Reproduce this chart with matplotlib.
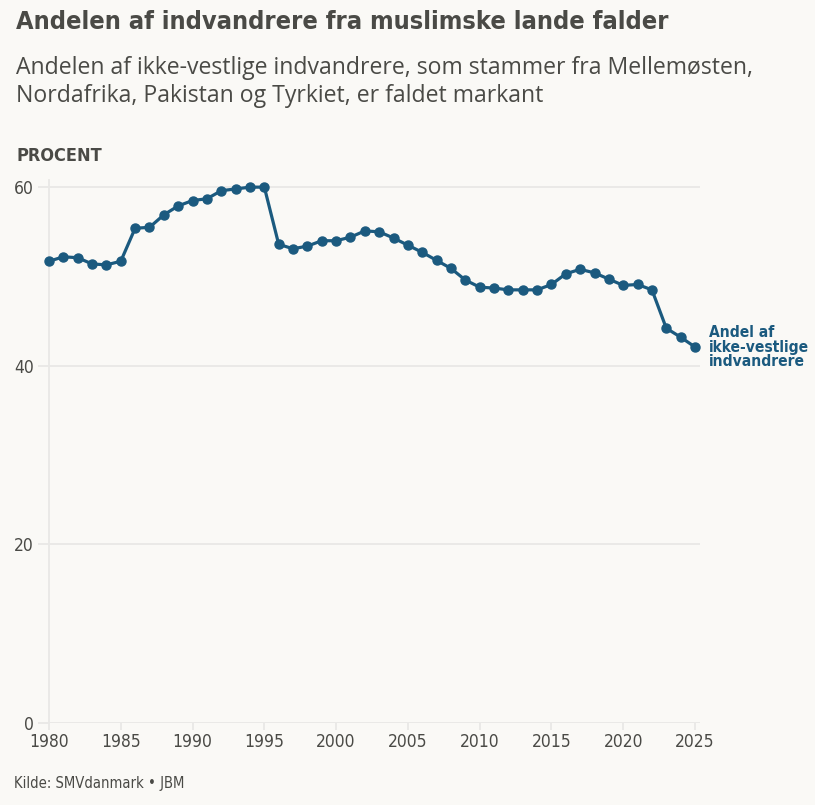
"""
Andelen af indvandrere fra muslimske lande - linjediagram.
"""

import matplotlib
matplotlib.use("Agg")
import matplotlib.pyplot as plt

# Data
years = list(range(1980, 2026))
share = [51.7, 52.2, 52.1, 51.4, 51.3, 51.7, 55.4, 55.5, 56.9, 57.9,
         58.5, 58.7, 59.6, 59.8, 60.0, 60.0, 53.6, 53.1, 53.4, 54.0,
         54.0, 54.4, 55.1, 55.0, 54.3, 53.5, 52.7, 51.8, 50.9, 49.6,
         48.8, 48.7, 48.5, 48.5, 48.5, 49.1, 50.3, 50.8, 50.4, 49.7,
         49.0, 49.1, 48.5, 44.2, 43.2, 42.1]
x_ticks = [1980, 1985, 1990, 1995, 2000, 2005, 2010, 2015, 2020, 2025]
y_ticks = [0, 20, 40, 60]

title = "Andelen af indvandrere fra muslimske lande falder"
subtitle = ("Andelen af ikke-vestlige indvandrere, som stammer fra Mellemøsten,\n"
            "Nordafrika, Pakistan og Tyrkiet, er faldet markant")
series_label = "Andel af\nikke-vestlige\nindvandrere"
source = "Kilde: SMVdanmark • JBM"

BG = "#faf9f6"
LINE = "#1b5a7f"
TEXT = "#4a4a46"
GRID = "#e9e8e6"
NARROW = dict(family="DejaVu Sans", stretch="condensed")


def plot():
    fig = plt.figure(figsize=(8.15, 8.05), dpi=100, facecolor=BG)
    ax = fig.add_axes([49 / 815, 1 - 723 / 805, 651 / 815, 543 / 805])
    ax.set_facecolor(BG)

    ax.plot(years, share, color=LINE, lw=2.3, marker="o", ms=6.5,
            solid_joinstyle="round", clip_on=False, zorder=3)

    ax.set_xlim(1980, 1980 + 651 / 14.356)
    ax.set_ylim(0, 60.8)
    ax.set_xticks(x_ticks)
    ax.set_yticks(y_ticks)
    ax.grid(axis="y", color=GRID, lw=1.3)
    ax.set_axisbelow(True)

    for side in ["top", "right", "bottom"]:
        ax.spines[side].set_visible(False)
    ax.spines["left"].set_color(GRID)
    ax.spines["left"].set_linewidth(1.3)

    ax.tick_params(axis="y", length=8, width=1.3, color=GRID, pad=3,
                   labelcolor=TEXT, labelsize=12.5)
    ax.tick_params(axis="x", length=5, width=1.3, color=GRID, pad=2,
                   labelcolor=TEXT, labelsize=12.5)
    for lab in ax.get_xticklabels() + ax.get_yticklabels():
        lab.set_family(NARROW["family"])
        lab.set_stretch(NARROW["stretch"])

    # etiket ved sidste punkt
    ax.annotate(series_label, xy=(years[-1], share[-1]), xytext=(10, 0),
                textcoords="offset points", va="center", ha="left",
                color=LINE, fontsize=11.2, fontweight="bold",
                linespacing=0.92, **NARROW)

    fig.text(16 / 815, 1 - 22 / 805, title, fontsize=18.2, fontweight="bold",
             color=TEXT, va="center", **NARROW)
    fig.text(16 / 815, 1 - 82 / 805, subtitle, fontsize=16.6, color=TEXT,
             family=["Open Sans", "DejaVu Sans"], va="center", linespacing=1.22)
    fig.text(16 / 815, 1 - 156 / 805, "PROCENT", fontsize=13, fontweight="bold",
             color=TEXT, va="center", **NARROW)
    fig.text(14 / 815, 1 - 783 / 805, source, fontsize=10.6, color=TEXT,
             va="center", **NARROW)

    fig.savefig("out.png", dpi=100, facecolor=BG)


plot()
